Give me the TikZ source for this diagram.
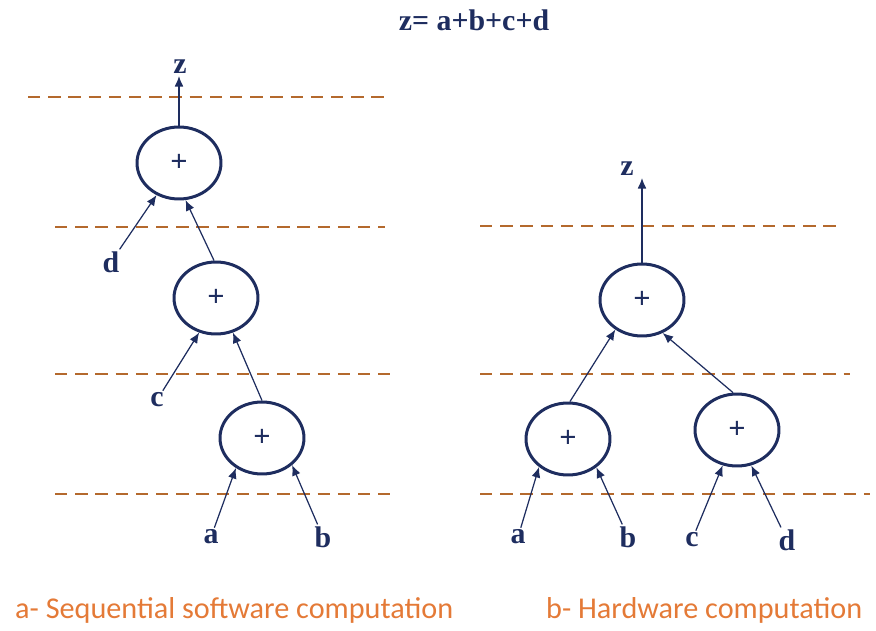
\documentclass[tikz,border=0pt]{standalone}
\usepackage{fontspec}
\setmainfont{Liberation Serif}
\newfontfamily\capfont{Carlito}
\usepackage{tikz}
\usetikzlibrary{shapes.geometric, arrows.meta}
\definecolor{navy}{RGB}{30, 45, 95}
\definecolor{dashbrown}{RGB}{180, 105, 45}
\definecolor{caporange}{RGB}{228, 122, 55}
\tikzset{
    adder/.style = {ellipse, draw=navy, line width=1.7pt, minimum width=1.68cm, minimum height=1.44cm, text=navy, font=\LARGE\bfseries},
    var/.style = {text=navy, font=\fontsize{17}{19}\selectfont\bfseries, inner sep=1pt},
    arrow/.style = {draw=navy, line width=0.7pt, -{Latex[length=6pt, width=5pt]}},
    level/.style = {draw=dashbrown, line width=1.3pt, dash pattern=on 7pt off 4.5pt},
    caption/.style = {text=caporange, font=\capfont\fontsize{17.2}{20}\selectfont}
}

\begin{document}
\begin{tikzpicture}[x=0.02cm, y=-0.02cm]
\useasboundingbox (0,0) rectangle (876,631);

% Title
\node (title) [var] at (474,20) {z= a+b+c+d};

% Dashed levels
\coordinate (l1a) at (28,97);  \coordinate (l1b) at (385,97);
\coordinate (l2a) at (55,227); \coordinate (l2b) at (385,227);
\coordinate (l3a) at (55,374); \coordinate (l3b) at (390,374);
\coordinate (l4a) at (55,494); \coordinate (l4b) at (390,494);
\coordinate (r2a) at (480,226); \coordinate (r2b) at (840,226);
\coordinate (r3a) at (480,374); \coordinate (r3b) at (850,374);
\coordinate (r4a) at (480,494); \coordinate (r4b) at (870,494);
\foreach \p in {l1,l2,l3,l4,r2,r3,r4}
    \draw [level] (\p a) -- (\p b);

% Sequential nodes
\node (s1) [adder] at (179,163) {+};
\node (s2) [adder] at (216,298) {+};
\node (s3) [adder] at (262,438) {+};
\node (sz) [var] at (180,67) {z};
\node (sd) [var] at (111,262) {d};
\node (sc) [var] at (157,400) {c};
\node (sa) [var] at (211,537) {a};
\node (sb) [var] at (323,537) {b};

% Hardware nodes
\node (h1) [adder] at (642,300) {+};
\node (h2) [adder] at (568,439) {+};
\node (h3) [adder] at (737,430) {+};
\node (hz) [var] at (627,169) {z};
\node (ha) [var] at (518,537) {a};
\node (hb) [var] at (628,537) {b};
\node (hc) [var] at (692,540) {c};
\node (hd) [var] at (787,540) {d};

% Arrows
\draw [arrow] (s1.north) -- (s1.north |- sz.south);
\draw [arrow] (sd) -- (s1.235);
\draw [arrow] (s2.93) -- (s1.280);
\draw [arrow] (sc) -- (s2.244);
\draw [arrow] (s3.north) -- (s2.296);
\draw [arrow] (sa) -- (s3.229);
\draw [arrow] (sb) -- (s3.318);

\draw [arrow] (h1.north) -- (h1.north |- hz.south);
\draw [arrow] (h2.87) -- (h1.228);
\draw [arrow] (h3.96) -- (h1.302);
\draw [arrow] (ha) -- (h2.224);
\draw [arrow] (hb) -- (h2.315);
\draw [arrow] (hc) -- (h3.248);
\draw [arrow] (hd) -- (h3.292);

% Captions
\node (capa) [caption, anchor=west] at (9,610) {a- Sequential software computation};
\node (capb) [caption, anchor=west] at (540,610) {b- Hardware computation};

\end{tikzpicture}
\end{document}
